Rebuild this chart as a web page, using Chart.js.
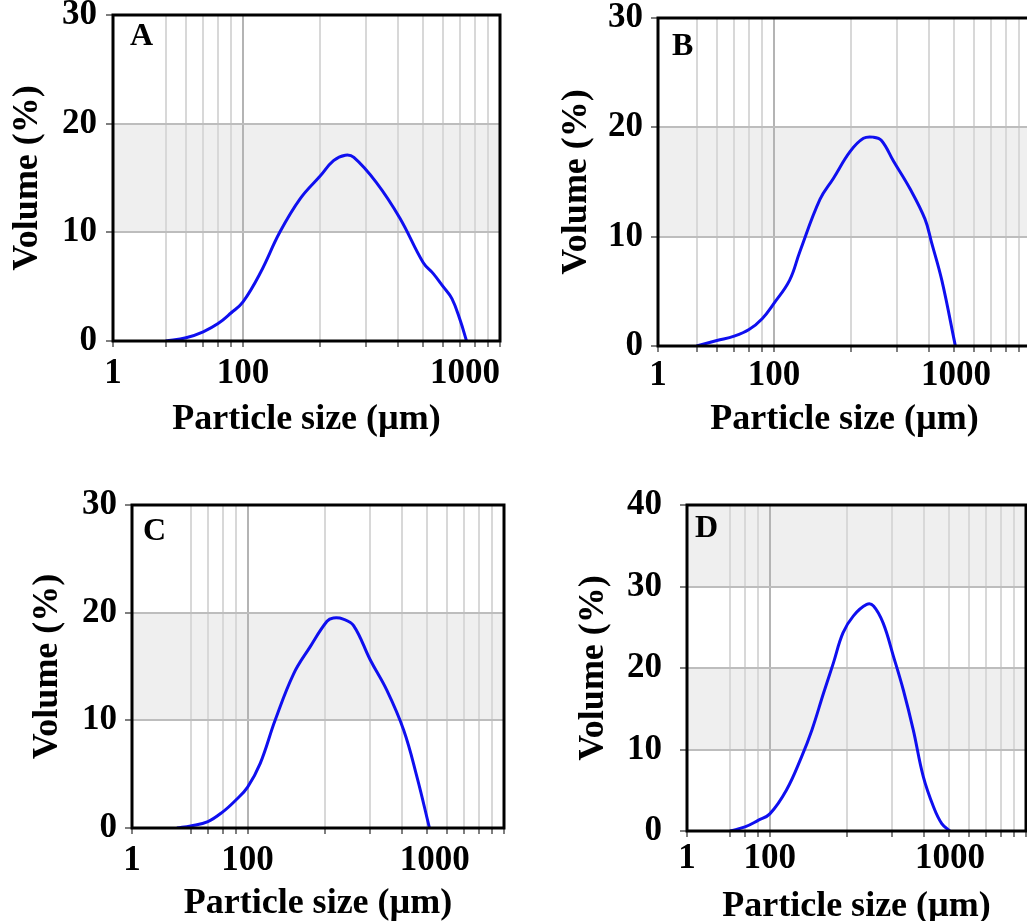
<!DOCTYPE html>
<html>
<head>
<meta charset="utf-8">
<script src="https://cdn.jsdelivr.net/npm/chart.js@4.4.0/dist/chart.umd.min.js"></script>
<style>
  html, body { margin: 0; padding: 0; background: #fff; }
  body { width: 1027px; height: 921px; overflow: hidden; position: relative; }
  canvas { position: absolute; }
</style>
</head>
<body>
<canvas id="chartA" width="510" height="471" style="left:0px;top:-30px"></canvas>
<canvas id="chartB" width="482" height="468" style="left:549px;top:-27px"></canvas>
<canvas id="chartC" width="494" height="465" style="left:20px;top:460px"></canvas>
<canvas id="chartD" width="462" height="468" style="left:566px;top:460px"></canvas>
<script>
// particle size (um) / volume (%)
const sizesA = [50, 60, 70, 80, 90, 100, 117, 139, 167, 200, 225, 250, 270, 330, 408, 503, 550, 601, 650, 700, 741];
const volumeA = [0, 0.3, 0.85, 1.6, 2.6, 3.6, 6.3, 10.0, 13.1, 15.2, 16.6, 17.1, 16.9, 14.6, 11.3, 7.2, 6.2, 5.0, 3.9, 1.9, 0];

const sizesB = [50, 60, 70, 80, 90, 100, 115, 126, 151, 170, 198, 223, 244, 262, 292, 338, 387, 410, 450, 508];
const volumeB = [0, 0.5, 0.9, 1.5, 2.5, 3.9, 6.0, 8.6, 13.4, 15.3, 17.8, 19.0, 19.1, 18.8, 16.9, 14.4, 11.6, 9.5, 6.0, 0];

const sizesC = [53, 60, 70, 80, 90, 100, 112, 128, 151, 175, 204, 216, 236, 259, 301, 349, 406, 457, 512];
const volumeC = [0, 0.2, 0.6, 1.5, 2.6, 3.8, 6.0, 10.0, 14.3, 16.8, 19.2, 19.5, 19.4, 18.8, 15.6, 12.8, 9.1, 4.8, 0];

const sizesD = [70, 80, 90, 100, 116, 133, 146, 162, 177, 193, 212, 239, 254, 277, 304, 332, 363, 397, 435, 469, 505];
const volumeD = [0, 0.5, 1.3, 2.1, 5.0, 9.1, 12.4, 16.9, 20.6, 24.3, 26.4, 27.8, 27.6, 25.5, 21.4, 17.3, 12.4, 6.7, 3.0, 0.9, 0];

const xTickLabels = ['1', '100', '1000'];
const yTicks30 = [0, 10, 20, 30];
const yTicks40 = [0, 10, 20, 30, 40];

const serif = "'Liberation Serif', 'Times New Roman', serif";

// grey bands under the grid, black frame and panel letter on top
const panelDecor = {
  id: 'panelDecor',
  beforeDraw(chart, args, opts) {
    const { ctx, chartArea: a, scales: { y } } = chart;
    ctx.save();
    ctx.fillStyle = '#efefef';
    opts.bands.forEach(([lo, hi]) => {
      const top = y.getPixelForValue(hi);
      const bot = y.getPixelForValue(lo);
      ctx.fillRect(a.left, top, a.right - a.left, bot - top);
    });
    ctx.restore();
  },
  afterDatasetsDraw(chart, args, opts) {
    const { ctx, chartArea: a } = chart;
    ctx.save();
    ctx.strokeStyle = '#000';
    ctx.lineWidth = 3;
    ctx.strokeRect(a.left, a.top, a.right - a.left, a.bottom - a.top);
    ctx.fillStyle = '#000';
    ctx.font = 'bold 32px ' + serif;
    ctx.textBaseline = 'alphabetic';
    ctx.fillText(opts.letter, a.left + opts.letterX, a.top + opts.letterY);
    ctx.restore();
  }
};

function drawPanel(id, p) {
  const xTicks = [p.xMin].concat(p.grid, [p.label1000]);
  new Chart(document.getElementById(id), {
    type: 'line',
    data: {
      datasets: [{
        data: p.sizes.map((s, i) => ({ x: s, y: p.volume[i] })),
        borderColor: '#0f0fef',
        borderWidth: 3,
        pointRadius: 0,
        fill: false,
        tension: 0.4
      }]
    },
    plugins: [panelDecor],
    options: {
      responsive: false,
      animation: false,
      devicePixelRatio: 1,
      layout: { padding: { top: 45, right: p.padRight, left: 0, bottom: 0 } },
      plugins: {
        legend: { display: false },
        tooltip: { enabled: false },
        panelDecor: { bands: p.bands, letter: p.letter, letterX: p.letterX, letterY: p.letterY }
      },
      scales: {
        x: {
          type: 'logarithmic',
          min: p.xMin,
          max: 1000,
          afterBuildTicks: s => { s.ticks = xTicks.map(v => ({ value: v })); },
          afterFit: s => { s.height = p.xAxisH; },
          ticks: {
            autoSkip: false,
            maxRotation: 0,
            padding: p.xPad,
            color: '#000',
            font: { family: serif, size: 35, weight: 'bold' },
            callback: v => v === p.xMin ? xTickLabels[0] : v === 100 ? xTickLabels[1] : v === p.label1000 ? xTickLabels[2] : ''
          },
          grid: {
            lineWidth: 2,
            tickLength: 6,
            tickWidth: 1.5,
            color: c => c.tick.value === p.label1000 ? 'rgba(0,0,0,0)' : c.tick.value === 100 ? '#b4b4b4' : '#d8d8d8',
            tickColor: c => c.tick.value === p.label1000 ? 'rgba(0,0,0,0)' : '#555'
          },
          border: { display: false },
          title: {
            display: true,
            text: 'Particle size (µm)',
            color: '#000',
            font: { family: serif, size: 36, weight: 'bold' },
            padding: 0
          }
        },
        y: {
          min: 0,
          max: p.yMax,
          afterBuildTicks: s => { s.ticks = p.yTicks.map(v => ({ value: v })); },
          afterFit: s => { s.width = p.yAxisW; },
          ticks: {
            padding: p.yPad,
            color: '#000',
            font: { family: serif, size: 35, weight: 'bold' }
          },
          grid: { color: '#bdbdbd', lineWidth: 2, tickLength: 7, tickWidth: 1.5, tickColor: '#555' },
          border: { display: false },
          title: {
            display: true,
            text: 'Volume (%)',
            color: '#000',
            font: { family: serif, size: 36, weight: 'bold' },
            padding: { top: 6, bottom: 0 }
          }
        }
      }
    }
  });
}

drawPanel('chartA', {
  sizes: sizesA, volume: volumeA, letter: 'A', letterX: 17, letterY: 30,
  xMin: 31.2, label1000: 731, grid: [50, 60, 70, 80, 90, 100, 200, 300, 400, 500, 600, 700, 800, 900, 1000],
  yMax: 30, yTicks: yTicks30, bands: [[10, 20]],
  yAxisW: 113, yPad: 9, xAxisH: 100, xPad: 6, padRight: 10
});
drawPanel('chartB', {
  sizes: sizesB, volume: volumeB, letter: 'B', letterX: 14, letterY: 37,
  xMin: 35.4, label1000: 511, grid: [50, 60, 70, 80, 90, 100, 200, 300, 400, 500, 600, 700, 800, 900, 1000],
  yMax: 30, yTicks: yTicks30, bands: [[10, 20]],
  yAxisW: 109, yPad: 8, xAxisH: 95, xPad: 3, padRight: 0
});
drawPanel('chartC', {
  sizes: sizesC, volume: volumeC, letter: 'C', letterX: 11, letterY: 35,
  xMin: 35.4, label1000: 537, grid: [60, 70, 80, 90, 100, 200, 300, 400, 500, 600, 700, 800, 900, 1000],
  yMax: 30, yTicks: yTicks30, bands: [[10, 20]],
  yAxisW: 112, yPad: 8, xAxisH: 97, xPad: 6, padRight: 10
});
drawPanel('chartD', {
  sizes: sizesD, volume: volumeD, letter: 'D', letterX: 8, letterY: 32,
  xMin: 47.5, label1000: 505, grid: [70, 80, 90, 100, 200, 300, 400, 500, 600, 700, 800, 900, 1000],
  yMax: 40, yTicks: yTicks40, bands: [[10, 20], [30, 40]],
  yAxisW: 121, yPad: 18, xAxisH: 97, xPad: 1, padRight: 2
});
</script>
</body>
</html>
